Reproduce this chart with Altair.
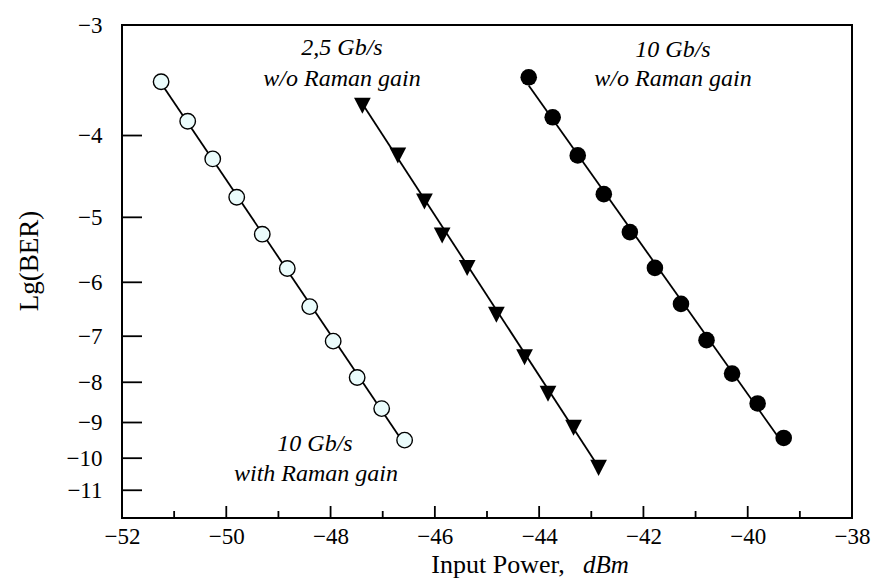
import altair as alt
import pandas as pd

# ---- data ----
x_open = [-51.25, -50.74, -50.26, -49.80, -49.31, -48.83, -48.40, -47.95, -47.49, -47.02, -46.58]
y_open = [-3.47, -3.85, -4.26, -4.73, -5.24, -5.77, -6.43, -7.10, -7.89, -8.64, -9.48]

x_tri = [-47.39, -46.71, -46.20, -45.86, -45.38, -44.82, -44.28, -43.83, -43.34, -42.86]
y_tri = [-3.67, -4.19, -4.75, -5.22, -5.72, -6.53, -7.38, -8.21, -9.07, -10.21]

x_fill = [-44.20, -43.74, -43.26, -42.76, -42.26, -41.78, -41.28, -40.79, -40.30, -39.81, -39.31]
y_fill = [-3.43, -3.81, -4.22, -4.69, -5.21, -5.76, -6.38, -7.08, -7.80, -8.51, -9.42]

x_major = [-52, -50, -48, -46, -44, -42, -40, -38]
x_minor = [-51, -49, -47, -45, -43, -41, -39]
y_ticks = [-3, -4, -5, -6, -7, -8, -9, -10, -11]

OFFSET = 0.6  # axis scale: log(-Lg(BER) - 0.6)

df = pd.concat([
    pd.DataFrame({"series": "open", "x": x_open, "v": y_open}),
    pd.DataFrame({"series": "tri", "x": x_tri, "v": y_tri}),
    pd.DataFrame({"series": "fill", "x": x_fill, "v": y_fill}),
], ignore_index=True)

W, H = 730, 493
FONT = "Liberation Serif"
MINUS = "\u2212"

X = alt.X("x:Q",
          scale=alt.Scale(domain=[-52, -38], nice=False, zero=False),
          axis=alt.Axis(values=x_major, labelExpr=f"'{MINUS}' + abs(datum.value)",
                        ticks=False, domain=False, grid=False, labelFont=FONT,
                        labelFontSize=23, labelColor="black", labelPadding=7,
                        labelFlush=False, labelOverlap=False, title=None))
Y = alt.Y("w:Q",
          scale=alt.Scale(type="log", domain=[3 - OFFSET, 12 - OFFSET - 0.05],
                          reverse=True, nice=False, zero=False),
          axis=alt.Axis(values=[-v - OFFSET for v in y_ticks],
                        labelExpr=f"'{MINUS}' + round(datum.value + {OFFSET})",
                        ticks=False, domain=False, grid=False, labelFont=FONT,
                        labelFontSize=23, labelColor="black", labelPadding=20,
                        labelFlush=False, labelOverlap=False, title=None))

base = alt.Chart(df).transform_calculate(w=f"-datum.v - {OFFSET}")

lines = alt.Chart(df).transform_calculate(
    lw=f"log(-datum.v - {OFFSET})"
).transform_regression("x", "lw", groupby=["series"]).transform_calculate(
    w="exp(datum.lw)"
).mark_line(color="black", strokeWidth=1.8).encode(x=X, y=Y, detail="series:N")

open_pts = base.transform_filter("datum.series == 'open'").mark_point(
    shape="circle", filled=True, fill="#ebfcfc", stroke="black", strokeWidth=1.4,
    size=240, opacity=1).encode(x=X, y=Y)
tri_pts = base.transform_filter("datum.series == 'tri'").mark_point(
    shape="M -1 -0.64 L 1 -0.64 L 0 1.28 Z", filled=True, color="black",
    size=280, opacity=1).encode(x=X, y=Y)
fill_pts = base.transform_filter("datum.series == 'fill'").mark_point(
    shape="circle", filled=True, color="black", size=275, opacity=1).encode(x=X, y=Y)

# inward ticks
xt_major = alt.Chart(pd.DataFrame({"x": x_major})).mark_rule(color="black", strokeWidth=1.8).encode(
    x=X, y=alt.value(H), y2=alt.value(H - 12))
xt_minor = alt.Chart(pd.DataFrame({"x": x_minor})).mark_rule(color="black", strokeWidth=1.8).encode(
    x=X, y=alt.value(H), y2=alt.value(H - 7))
yt = alt.Chart(pd.DataFrame({"v": y_ticks})).transform_calculate(w=f"-datum.v - {OFFSET}").mark_rule(
    color="black", strokeWidth=1.8).encode(y=Y, x=alt.value(0), x2=alt.value(20))

one = pd.DataFrame({"a": [0]})


def txt(s, x, y, italic=False, size=24, align="center", angle=0):
    kw = dict(font=FONT, fontSize=size, color="black", align=align, baseline="alphabetic")
    if italic:
        kw["fontStyle"] = "italic"
    if angle:
        kw["angle"] = angle
    return alt.Chart(one).mark_text(text=s, **kw).encode(x=alt.value(x), y=alt.value(y))


texts = [
    txt("2,5 Gb/s", 220, 30, italic=True),
    txt("w/o Raman gain", 220, 61, italic=True),
    txt("10 Gb/s", 551, 32, italic=True),
    txt("w/o Raman gain", 551, 61, italic=True),
    txt("10 Gb/s", 193, 426, italic=True),
    txt("with Raman gain", 194, 456, italic=True),
    txt("Input Power,", 376, 548, size=26),
    txt("dBm", 484, 548, italic=True, size=25),
    txt("Lg(BER)", -84, 236, size=27, angle=270),
]

chart = alt.layer(xt_major, xt_minor, yt, lines, open_pts, tri_pts, fill_pts, *texts).properties(
    width=W, height=H,
    autosize=alt.AutoSizeParams(type="none"),
    padding={"left": 122, "top": 25, "right": 24, "bottom": 61},
).configure_view(stroke="black", strokeWidth=2)

chart.save("out.html", embed_options={"renderer": "svg", "actions": False})
